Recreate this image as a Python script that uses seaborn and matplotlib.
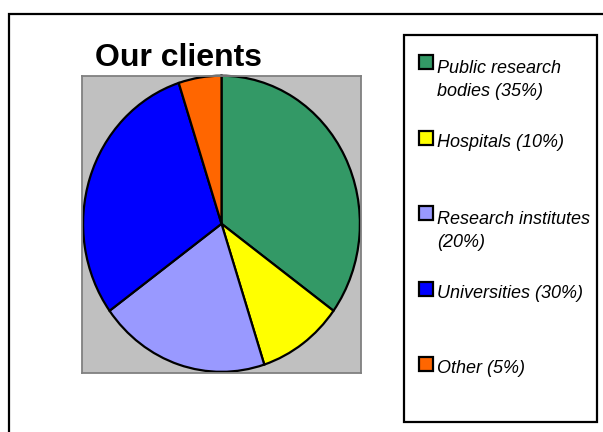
import matplotlib
matplotlib.use("Agg")
import matplotlib.pyplot as plt
from matplotlib.patches import Rectangle
import seaborn as sns

# chart data
categories = ["Public research bodies", "Hospitals", "Research institutes",
              "Universities", "Other"]
shares = [35, 10, 20, 30, 5]
legend_labels = ["Public research\nbodies (35%)", "Hospitals (10%)",
                 "Research institutes\n(20%)", "Universities (30%)", "Other (5%)"]
slice_colors = ["#339966", "#ffff00", "#9999ff", "#0000ff", "#ff6600"]
title = "Our clients"

sns.set_style("white")
plt.rcParams["font.family"] = ["Liberation Sans", "DejaVu Sans"]
plt.rcParams["text.color"] = "black"

W, H = 603, 432
fig = plt.figure(figsize=(W / 100, H / 100), dpi=100)


def fx(px):
    return px / W


def fy(py):
    return 1 - py / H


# outer chart border (right/bottom run off the picture)
fig.patches.append(Rectangle((fx(9), -0.1), 1.2, fy(14) + 0.1, transform=fig.transFigure,
                             fill=False, edgecolor="black", linewidth=1.6, zorder=0))

# plot area
ax = fig.add_axes([fx(82), fy(373), fx(361) - fx(82), fy(75.7) - fy(373)])
palette = sns.color_palette(slice_colors)
wedges, _ = ax.pie(shares, colors=palette, startangle=90, counterclock=False, radius=1,
                   wedgeprops=dict(edgecolor="black", linewidth=1.6))
for w in wedges:
    w.set_clip_on(False)
ax.set_aspect("auto")
ax.set_xlim(-1.008, 1.008)
ax.set_ylim(-1.008, 1.0)
ax.set_frame_on(True)
ax.set_facecolor("#c0c0c0")
for s in ax.spines.values():
    s.set_visible(True)
    s.set_edgecolor("#808080")
    s.set_linewidth(1.3)
ax.set_xticks([])
ax.set_yticks([])

# title
fig.text(fx(95), fy(66), title, fontsize=23, fontweight="bold", color="black",
         ha="left", va="baseline")

# legend box
fig.patches.append(Rectangle((fx(404), fy(422)), fx(597) - fx(404), fy(35) - fy(422),
                             transform=fig.transFigure, fill=False,
                             edgecolor="black", linewidth=1.6))
step = 75.6
line_h = 25
for i, (lab, col) in enumerate(zip(legend_labels, palette)):
    top = 55 + i * step
    fig.patches.append(Rectangle((fx(419), fy(top + 14)), fx(14), 14 / H,
                                 transform=fig.transFigure, facecolor=col,
                                 edgecolor="black", linewidth=1.6))
    n_lines = lab.count("\n") + 1
    fig.text(fx(437), fy(top + 16 + (n_lines - 1) * line_h), lab, fontsize=13,
             style="italic", color="black", ha="left", va="baseline",
             linespacing=1.45)

fig.savefig("out.png", dpi=100)
